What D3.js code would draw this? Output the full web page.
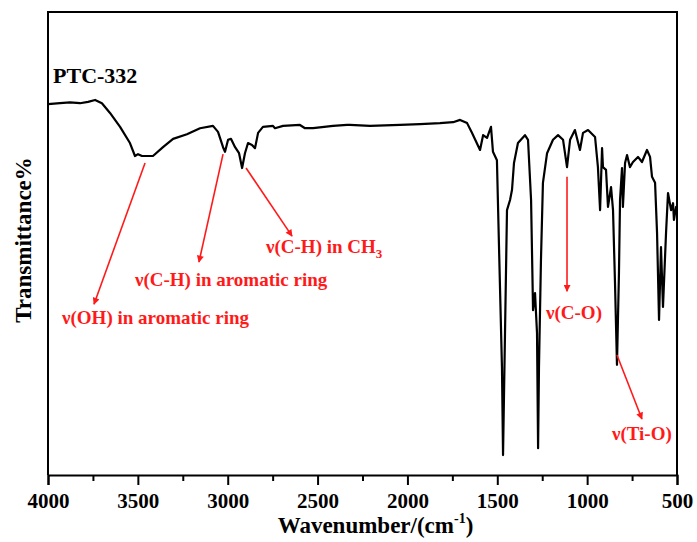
<!DOCTYPE html>
<html>
<head>
<meta charset="utf-8">
<script src="https://cdn.jsdelivr.net/npm/d3@7/dist/d3.min.js"></script>
<style>
  html, body { margin: 0; padding: 0; background: #fff; }
  svg { display: block; }
  text { font-family: "Liberation Serif", "Times New Roman", serif; font-weight: bold; }
</style>
</head>
<body>
<svg id="chart" width="697" height="542"></svg>
<script>
// FTIR spectrum of PTC-332: wavenumber (cm^-1) and transmittance (a.u., %)
const wavenumber = [
  4000, 3933, 3878, 3822, 3777, 3738, 3700, 3655, 3599, 3544, 3516, 3499, 3477, 3416,
  3360, 3304, 3227, 3154, 3082, 3054, 3026, 3015, 2998, 2982, 2959, 2937, 2920, 2904,
  2887, 2865, 2848, 2831, 2804, 2748, 2737, 2692, 2598, 2570, 2525, 2414, 2336, 2320,
  2208, 2041, 1930, 1819, 1746, 1707, 1668, 1641, 1596, 1579, 1557, 1535, 1524, 1502,
  1490, 1474, 1468, 1457, 1446, 1429, 1418, 1407, 1385, 1346, 1329, 1312, 1301, 1290,
  1279, 1273, 1268, 1257, 1246, 1223, 1190, 1162, 1134, 1112, 1095, 1068, 1040, 1023,
  995, 956, 940, 928, 917, 912, 895, 884, 867, 856, 845, 834, 823, 817, 806, 801, 789,
  778, 762, 745, 717, 695, 667, 650, 639, 622, 611, 600, 589, 578, 561, 550, 533, 522,
  517, 505, 500
];
const transmittance = [
  80.1, 80.3, 80.5, 80.3, 80.6, 81.0, 80.3, 78.2, 75.2, 71.7, 68.9, 69.3, 68.9, 68.9,
  70.8, 72.6, 73.6, 74.9, 75.4, 74.1, 70.8, 69.8, 72.4, 72.6, 70.8, 69.5, 66.3, 69.5,
  71.7, 71.3, 70.6, 73.9, 75.2, 75.4, 74.9, 75.4, 75.6, 74.9, 74.9, 75.4, 75.6, 75.6,
  75.4, 75.6, 75.8, 76.0, 76.2, 76.7, 76.0, 73.9, 70.2, 73.4, 72.8, 75.2, 69.8, 68.0,
  48.6, 23.3, 4.3, 30.7, 57.2, 59.4, 61.6, 67.4, 71.7, 73.4, 72.4, 59.4, 35.6, 39.3,
  30.7, 5.8, 23.3, 46.4, 63.1, 69.5, 72.4, 73.4, 72.4, 66.5, 72.4, 74.5, 70.2, 73.9,
  74.5, 73.0, 66.5, 57.2, 70.6, 66.5, 65.9, 57.9, 62.2, 57.2, 41.5, 23.8, 43.6, 59.4,
  66.3, 57.9, 67.4, 69.1, 66.5, 67.6, 68.7, 67.6, 70.2, 68.7, 64.4, 63.1, 52.3, 33.5,
  49.2, 36.3, 52.3, 60.9, 57.2, 58.7, 55.1, 57.9, 57.2
];

// Axis ticks
const majorTicks = [4000, 3500, 3000, 2500, 2000, 1500, 1000, 500];
const minorTicks = [3750, 3250, 2750, 2250, 1750, 1250, 750];

// Band assignments: arrow from (w0,t0) to (w1,t1); label anchored at (lw,lt)
const bandLabels = ["ν(OH) in aromatic ring", "ν(C-H) in aromatic ring", "ν(C-H) in CH", "ν(C-O)", "ν(Ti-O)"];
const bandSubscripts = ["", "", "3", "", ""];
const arrowFromW = [3460, 3026, 2898, 1112, 834];
const arrowFromT = [67.4, 69.3, 66.3, 64.4, 25.9];
const arrowToW = [3744, 3160, 2642, 1112, 695];
const arrowToT = [36.9, 46.0, 51.6, 39.7, 12.1];
const labelW = [3922, 3516, 2787, 1229, 862];
const labelT = [32.6, 40.8, 47.9, 33.7, 7.6];

const sampleName = "PTC-332";

const svg = d3.select("#chart");
const margin = { left: 48, right: 20, top: 12, bottom: 67 };
const W = 697, H = 542;

const x = d3.scaleLinear().domain([4000, 500]).range([margin.left, W - margin.right]);
const y = d3.scaleLinear().domain([0, 100]).range([H - margin.bottom, margin.top]);

svg.append("rect").attr("width", W).attr("height", H).attr("fill", "#fff");

const red = "#ff1a1a";
svg.append("defs").append("marker")
  .attr("id", "arrowhead")
  .attr("viewBox", "0 0 10 10")
  .attr("refX", 9).attr("refY", 5)
  .attr("markerWidth", 9).attr("markerHeight", 7)
  .attr("markerUnits", "userSpaceOnUse")
  .attr("orient", "auto")
  .append("path")
  .attr("d", "M0,0 L10,5 L0,10 Z")
  .attr("fill", red);

// Spectrum
const data = wavenumber.map((w, i) => ({ w, t: transmittance[i] }));
const line = d3.line().x(d => x(d.w)).y(d => y(d.t)).curve(d3.curveLinear);
svg.append("path")
  .datum(data)
  .attr("d", line)
  .attr("fill", "none")
  .attr("stroke", "#000")
  .attr("stroke-width", 2.2)
  .attr("stroke-linejoin", "round");

// Frame
const [x0, x1] = x.range();
const [yb, yt] = y.range();
svg.append("path")
  .attr("d", `M${x0},${yb} L${x0},${yt} L${x1},${yt} L${x1},${yb}`)
  .attr("fill", "none").attr("stroke", "#000").attr("stroke-width", 2);

// Bottom axis: major ticks with labels
const axisMajor = svg.append("g")
  .attr("transform", `translate(0,${yb})`)
  .call(d3.axisBottom(x).tickValues(majorTicks).tickSize(10).tickFormat(d3.format("d")));
axisMajor.select(".domain").attr("stroke-width", 2);
axisMajor.selectAll(".tick line").attr("stroke-width", 2);
axisMajor.selectAll(".tick text")
  .attr("y", 33).attr("dy", null)
  .attr("font-size", 21)
  .attr("font-family", "Liberation Serif, serif")
  .attr("font-weight", "bold")
  .attr("fill", "#000");

// Bottom axis: minor ticks
const axisMinor = svg.append("g")
  .attr("transform", `translate(0,${yb})`)
  .call(d3.axisBottom(x).tickValues(minorTicks).tickSize(6).tickFormat(""));
axisMinor.select(".domain").remove();
axisMinor.selectAll(".tick line").attr("stroke-width", 2);

// Axis titles
const xt = svg.append("text")
  .attr("x", (x0 + x1) / 2 + 13).attr("y", 533)
  .attr("text-anchor", "middle")
  .attr("font-size", 23)
  .attr("fill", "#000");
xt.append("tspan").text("Wavenumber/(cm");
xt.append("tspan").attr("font-size", 14).attr("dy", -10).text("-1");
xt.append("tspan").attr("dy", 10).text(")");

svg.append("text")
  .attr("transform", `translate(31,${240}) rotate(-90)`)
  .attr("text-anchor", "middle")
  .attr("font-size", 23)
  .attr("fill", "#000")
  .text("Transmittance%");

// Sample name
svg.append("text")
  .attr("x", x(3972)).attr("y", y(84.7))
  .attr("font-size", 22)
  .attr("fill", "#000")
  .text(sampleName);

// Band annotations
bandLabels.forEach((lab, i) => {
  svg.append("line")
    .attr("x1", x(arrowFromW[i])).attr("y1", y(arrowFromT[i]))
    .attr("x2", x(arrowToW[i])).attr("y2", y(arrowToT[i]))
    .attr("stroke", red).attr("stroke-width", 1.6)
    .attr("marker-end", "url(#arrowhead)");
  const t = svg.append("text")
    .attr("x", x(labelW[i])).attr("y", y(labelT[i]))
    .attr("font-size", 19)
    .attr("fill", red);
  t.append("tspan").text(lab);
  if (bandSubscripts[i]) {
    t.append("tspan").attr("font-size", 13).attr("dy", 5).text(bandSubscripts[i]);
  }
});
</script>
</body>
</html>
